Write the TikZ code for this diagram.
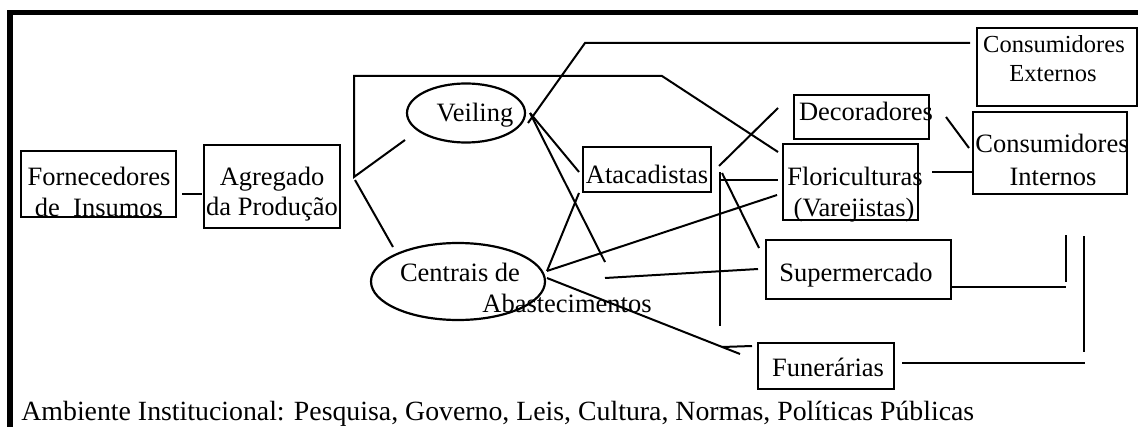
\documentclass[tikz,border=0pt]{standalone}
\usepackage{fontspec}
\setmainfont{Liberation Serif}
\usetikzlibrary{shapes.geometric}
\begin{document}
\begin{tikzpicture}[x=0.5pt,y=-0.5pt,
  box/.style={draw, line width=1.1pt, rectangle, inner sep=0pt},
  oval/.style={draw, line width=1.1pt, ellipse, inner sep=0pt},
  lbl/.style={anchor=base, inner sep=0pt, font=\fontsize{13.25}{15}\selectfont},
  slbl/.style={anchor=base, inner sep=0pt, font=\fontsize{12.25}{14}\selectfont},
  flbl/.style={anchor=base west, inner sep=0pt, font=\fontsize{13.9}{16}\selectfont},
  conn/.style={line width=1pt},
  frame/.style={line width=2.8pt}]
\useasboundingbox (0,0) rectangle (1138,427);
% outer frame
\coordinate (fa) at (10,427);
\coordinate (fb) at (10,12.5);
\coordinate (fc) at (1138,12.5);
\draw[frame] (fa) -- (fb) -- (fc);

% boxes
\node[box, minimum width=77.5pt, minimum height=33pt] (forn) at (98.5,184) {};
\node[box, minimum width=68pt, minimum height=41.5pt] (agreg) at (272,186.5) {};
\node[oval, minimum width=59pt, minimum height=29.5pt] (veil) at (466,113) {};
\node[oval, minimum width=87pt, minimum height=38.5pt] (cent) at (458,281.5) {};
\node[box, minimum width=64pt, minimum height=22.5pt] (atac) at (647,169.5) {};
\node[box, minimum width=67.5pt, minimum height=22pt] (decor) at (861.5,117) {};
\node[box, minimum width=67.5pt, minimum height=38pt] (flor) at (850.5,182) {};
\node[box, minimum width=80pt, minimum height=39pt] (cext) at (1057,67) {};
\node[box, minimum width=77pt, minimum height=41pt] (cint) at (1050,153) {};
\node[box, minimum width=92.5pt, minimum height=29.5pt] (super) at (858.5,269.5) {};
\node[box, minimum width=68pt, minimum height=23pt] (fune) at (826,366) {};

% texts
\node[lbl] (tforn1) at (99,185) {Fornecedores};
\node[lbl] (tforn2) at (99,216) {de\ \ Insumos};
\node[lbl] (tagr1) at (272,185) {Agregado};
\node[lbl] (tagr2) at (272,215) {da Produção};
\node[lbl] (tveil) at (475,122) {Veiling};
\node[lbl] (tatac) at (647,184) {Atacadistas};
\node[lbl] (tcent1) at (460,281) {Centrais de};
\node[lbl] (tcent2) at (567,312) {Abastecimentos};
\node[lbl] (tdecor) at (866,121) {Decoradores};
\node[lbl] (tflor1) at (855,185) {Floriculturas};
\node[lbl] (tflor2) at (854,216) {(Varejistas)};
\node[slbl] (tcext1) at (1054,53) {Consumidores};
\node[slbl] (tcext2) at (1053,82) {Externos};
\node[lbl] (tcint1) at (1052,153) {Consumidores};
\node[lbl] (tcint2) at (1053,185) {Internos};
\node[lbl] (tsuper) at (856,281) {Supermercado};
\node[lbl] (tfune) at (828,376) {Funerárias};
\node[flbl] (foot) at (21,420) {Ambiente Institucional: Pesquisa, Governo, Leis, Cultura, Normas, Políticas Públicas};

% connector end points
\coordinate (p1) at (182,194);  \coordinate (p2) at (202,194);
\coordinate (b1) at (405,140);  \coordinate (b2) at (354,177);
\coordinate (b3) at (354,76);   \coordinate (b4) at (662,76);
\coordinate (b5) at (778,152);
\coordinate (c1) at (355,180);  \coordinate (c2) at (393,247);
\coordinate (v1) at (528,123);  \coordinate (v2) at (585,43);  \coordinate (v3) at (970,43);
\coordinate (v4) at (530,113);  \coordinate (v5) at (579,172); \coordinate (v6) at (605,262);
\coordinate (s1) at (605,278);  \coordinate (s2) at (758,269);
\coordinate (ce1) at (547,271); \coordinate (ce2) at (579,193); \coordinate (ce3) at (777,195);
\coordinate (ce4) at (547,278); \coordinate (ce5) at (740,354);
\coordinate (f1) at (722,347);  \coordinate (f2) at (752,346);
\coordinate (a1) at (720,172);  \coordinate (a2) at (720,326);
\coordinate (a3) at (721,180);  \coordinate (a4) at (778,180);
\coordinate (a5) at (719,166);  \coordinate (a6) at (778,108);
\coordinate (a7) at (722,173);  \coordinate (a8) at (759,248);
\coordinate (d1) at (946,117);  \coordinate (d2) at (969,148);
\coordinate (fl1) at (932,172); \coordinate (fl2) at (973,172);
\coordinate (su1) at (951,287); \coordinate (su2) at (1066,287);
\coordinate (su3) at (1066,235); \coordinate (su4) at (1066,282);
\coordinate (fu1) at (1084,236); \coordinate (fu2) at (1084,352);
\coordinate (fu3) at (902,363); \coordinate (fu4) at (1085,363);

% connectors
\draw[conn] (p1) -- (p2);
\draw[conn] (b1) -- (b2) -- (b3) -- (b4) -- (b5);
\draw[conn] (c1) -- (c2);
\draw[conn] (v1) -- (v2) -- (v3);
\draw[conn] (v4) -- (v5);
\draw[conn] (v4) -- (v6);
\draw[conn] (s1) -- (s2);
\draw[conn] (ce1) -- (ce2);
\draw[conn] (ce1) -- (ce3);
\draw[conn] (ce4) -- (ce5);
\draw[conn] (f1) -- (f2);
\draw[conn] (a1) -- (a2);
\draw[conn] (a3) -- (a4);
\draw[conn] (a5) -- (a6);
\draw[conn] (a7) -- (a8);
\draw[conn] (d1) -- (d2);
\draw[conn] (fl1) -- (fl2);
\draw[conn] (su1) -- (su2);
\draw[conn] (su3) -- (su4);
\draw[conn] (fu1) -- (fu2);
\draw[conn] (fu3) -- (fu4);
\end{tikzpicture}
\end{document}
